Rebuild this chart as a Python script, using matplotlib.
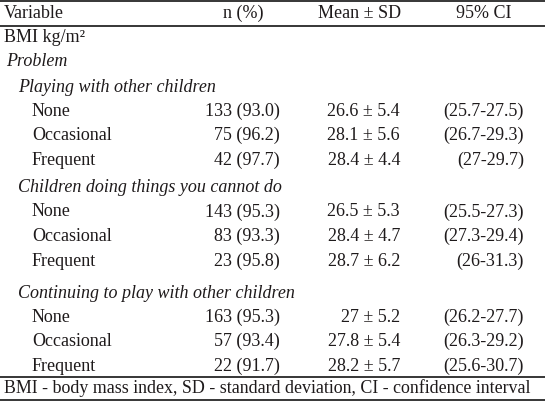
import matplotlib
matplotlib.use("Agg")
import matplotlib.pyplot as plt

# ---- data ----
columns = ["Variable", "n (%)", "Mean ± SD", "95% CI"]
top_label = "BMI kg/m²"
section_label = "Problem"
groups = ["Playing with other children",
          "Children doing things you cannot do",
          "Continuing to play with other children"]
levels = ["None", "Occasional", "Frequent"]
n_vals = [[133, 75, 42], [143, 83, 23], [163, 57, 22]]
pct_vals = [[93.0, 96.2, 97.7], [95.3, 93.3, 95.8], [95.3, 93.4, 91.7]]
mean_vals = [[26.6, 28.1, 28.4], [26.5, 28.4, 28.7], [27, 27.8, 28.2]]
sd_vals = [[5.4, 5.6, 4.4], [5.3, 4.7, 6.2], [5.2, 5.4, 5.7]]
ci_low = [[25.7, 26.7, 27], [25.5, 27.3, 26], [26.2, 26.3, 25.6]]
ci_high = [[27.5, 29.3, 29.7], [27.3, 29.4, 31.3], [27.7, 29.2, 30.7]]
footnote = "BMI - body mass index, SD - standard deviation, CI - confidence interval"

# ---- layout ----
W, H = 545, 401
fig = plt.figure(figsize=(W / 100, H / 100), dpi=100)
ax = fig.add_axes([0, 0, 1, 1])
ax.set_xlim(0, W)
ax.set_ylim(H, 0)
ax.axis("off")

plt.rcParams["font.family"] = ["Liberation Serif", "DejaVu Serif"]
fs = 13.0
col = "#1e1a1b"

x_var = 4
x_group = 18
x_level = 32
x_n_right = 280
x_mean_right = 400
x_ci_right = 524
x_n_hdr = 243
x_mean_hdr = 360
x_ci_hdr = 484

def t(x, y, s, ha="left", style="normal", size=fs):
    ax.text(x, y, s, ha=ha, va="center", fontsize=size, color=col,
            fontstyle=style)

# rules
for yl in [1, 25.5, 377, 399.5]:
    ax.plot([0, W], [yl, yl], color="black", lw=1.1, solid_capstyle="butt")

# header
y_hdr = 13
t(x_var, y_hdr, columns[0])
t(x_n_hdr, y_hdr, columns[1], ha="center")
t(x_mean_hdr, y_hdr, columns[2], ha="center")
t(x_ci_hdr, y_hdr, columns[3], ha="center")

t(x_var, 38, top_label)
t(x_var + 2, 62, section_label, style="italic")

group_y = [87, 188, 293]
row_step = 24.6
for g, gname in enumerate(groups):
    gy = group_y[g]
    t(x_group, gy, gname, style="italic")
    for i, lev in enumerate(levels):
        y = gy + 24 + i * row_step
        t(x_level, y, lev)
        t(x_n_right, y, f"{n_vals[g][i]} ({pct_vals[g][i]:.1f})", ha="right")
        t(x_mean_right, y, f"{mean_vals[g][i]:g} ± {sd_vals[g][i]:g}", ha="right")
        t(x_ci_right, y, f"({ci_low[g][i]:g}-{ci_high[g][i]:g})", ha="right")

t(x_var, 388, footnote, size=12.9)

fig.savefig("out.png", dpi=100)
